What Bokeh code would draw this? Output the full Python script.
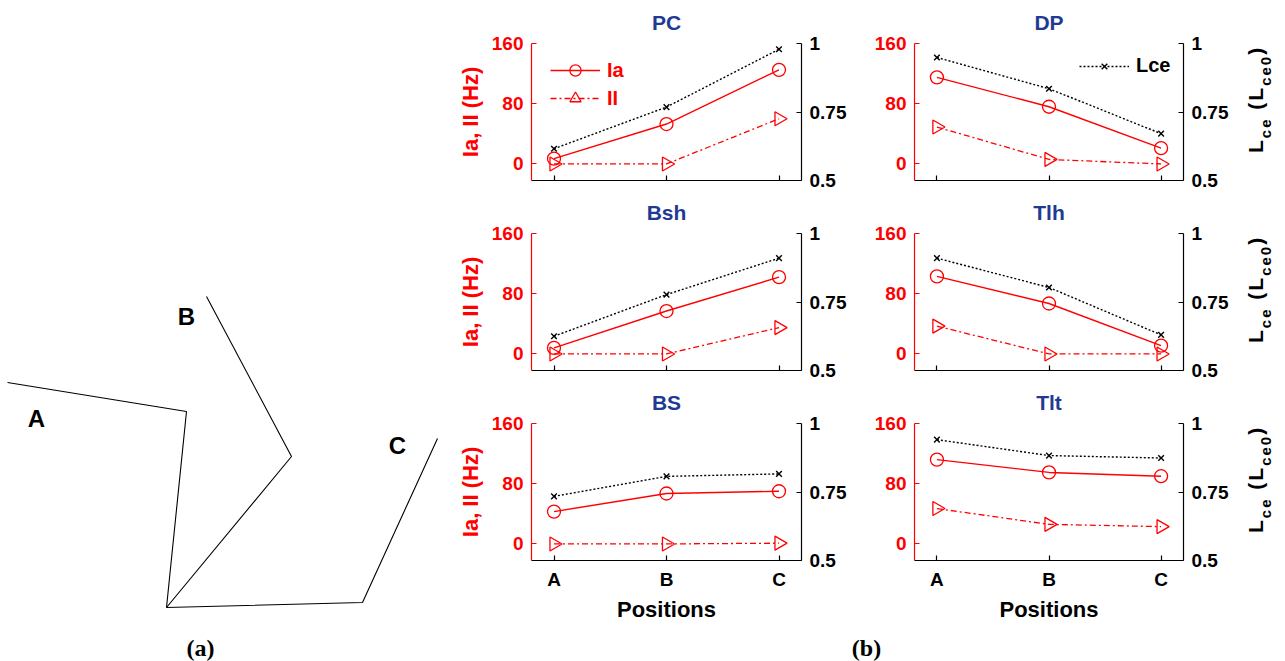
import math
from bokeh.plotting import figure
from bokeh.models import (Range1d, LinearAxis, FixedTicker, Legend, LegendItem, Label, Div)
from bokeh.layouts import row, column
from bokeh.embed import file_html
from bokeh.resources import INLINE
from bokeh.core.properties import value

# ---------------- data ----------------
POSITIONS = ["A", "B", "C"]
X = [1, 2, 3]

PC_IA = [7, 53, 125]
PC_II = [0, 0, 60]
PC_LCE = [0.616, 0.768, 0.979]

DP_IA = [115, 76, 21]
DP_II = [49, 6, 0]
DP_LCE = [0.949, 0.835, 0.671]

BSH_IA = [8, 57, 102]
BSH_II = [0, 0, 35]
BSH_LCE = [0.625, 0.777, 0.910]

TLH_IA = [103, 67, 11]
TLH_II = [37, 0, 0]
TLH_LCE = [0.910, 0.803, 0.630]

BS_IA = [43, 67, 70]
BS_II = [0, 0, 1]
BS_LCE = [0.734, 0.807, 0.816]

TLT_IA = [112, 95, 90]
TLT_II = [47, 26, 23]
TLT_LCE = [0.941, 0.883, 0.874]

LEFT_TICKS = [0, 80, 160]
RIGHT_TICKS = [0.5, 0.75, 1.0]
RIGHT_LABELS = ["0.5", "0.75", "1"]

# arm postures (shoulder at origin)
SHOULDER_X, SHOULDER_Y = 0, 0
ELBOW_X = [20, 125, 196]
ELBOW_Y = [196, 151, 5]
HAND_X = [-159, 40, 271]
HAND_Y = [225, 311, 169]
LABEL_X = [-130, 20, 231]
LABEL_Y = [189, 291, 162]

# ---------------- style ----------------
FONT = "Liberation Sans"
SERIF = "Liberation Serif"
RED = "#ff0000"
BLUE = "#1f3a93"

HEIGHTS = [190, 190, 250]
TOPS = [43, 43, 43]
BOTTOMS = [10, 10, 70]
STRIP_H = 31


def style_axis(ax, color, size="19px"):
    ax.axis_line_color = color
    ax.axis_line_width = 1.2
    ax.major_tick_line_color = color
    ax.major_tick_line_width = 1.2
    ax.major_tick_in = 5
    ax.major_tick_out = 0
    ax.minor_tick_line_color = None
    ax.major_label_text_color = color
    ax.major_label_text_font = FONT
    ax.major_label_text_font_style = "bold"
    ax.major_label_text_font_size = size
    ax.major_label_standoff = 8
    ax.axis_label_text_font = FONT
    ax.axis_label_text_font_style = "bold"
    ax.axis_label_text_font_size = "22px"
    ax.axis_label_text_color = color


def make_panel(title, ia, ii, lce, col, ri, legend=None):
    width = 410 if col == 0 else 385
    p = figure(width=width, height=HEIGHTS[ri], x_range=Range1d(0.8, 3.2),
               y_range=Range1d(-22, 160), toolbar_location=None, output_backend="svg",
               min_border_left=91 if col == 0 else 64,
               min_border_right=49 if col == 0 else 52,
               min_border_top=TOPS[ri], min_border_bottom=BOTTOMS[ri])
    p.extra_y_ranges = {"lce": Range1d(0.5, 1.0)}
    p.outline_line_color = None
    p.grid.visible = False

    p.title.text = title
    p.title.align = "center"
    p.title.vertical_align = "top"
    p.title.text_font = FONT
    p.title.text_font_style = "bold"
    p.title.text_font_size = "21px"
    p.title.text_color = BLUE
    p.title.standoff = 16

    l3 = p.line(X, lce, y_range_name="lce", line_color="black", line_width=1.4, line_dash="2 2")
    m3 = p.scatter(X, lce, y_range_name="lce", marker="x", size=8, line_color="black", line_width=1.4)
    l2 = p.line(X, ii, line_color=RED, line_width=1.3, line_dash="6 3 2 3")
    m2 = p.scatter(X, ii, marker="triangle", angle=-math.pi / 2, size=14, fill_color=None,
                   line_color=RED, line_width=1.3)
    l1 = p.line(X, ia, line_color=RED, line_width=1.4)
    m1 = p.scatter(X, ia, marker="circle", size=13, fill_color=None, line_color=RED, line_width=1.3)

    ly = p.yaxis[0]
    ly.ticker = FixedTicker(ticks=LEFT_TICKS)
    style_axis(ly, RED)
    if col == 0:
        ly.axis_label = "Ia, II (Hz)"
        ly.axis_label_standoff = 6

    ry = LinearAxis(y_range_name="lce", ticker=FixedTicker(ticks=RIGHT_TICKS))
    ry.major_label_overrides = {t: s for t, s in zip(RIGHT_TICKS, RIGHT_LABELS)}
    style_axis(ry, "black")
    p.add_layout(ry, "right")

    xa = p.xaxis[0]
    xa.ticker = FixedTicker(ticks=X)
    xa.major_label_overrides = {x: s for x, s in zip(X, POSITIONS)}
    style_axis(xa, "black")
    if ri == 2:
        xa.axis_label = "Positions"
        xa.axis_label_standoff = 4
    else:
        xa.major_label_text_font_size = "1px"
        xa.major_label_text_color = None
        xa.major_label_standoff = 0

    if legend == "ia":
        lg = Legend(items=[LegendItem(label="Ia", renderers=[l1, m1]),
                           LegendItem(label="II", renderers=[l2, m2])],
                    location=(19, 68))
        lg.label_text_color = RED
        lg.glyph_height = 28
        lg.label_height = 28
        lg.spacing = 0
    elif legend == "lce":
        lg = Legend(items=[LegendItem(label="Lce", renderers=[l3, m3])], location=(165, 103))
        lg.label_text_color = "black"
        lg.glyph_height = 20
        lg.label_height = 20
        lg.spacing = 0
    else:
        lg = None
    if lg is not None:
        lg.label_text_font = FONT
        lg.label_text_font_style = "bold"
        lg.label_text_font_size = "20px"
        lg.glyph_width = 50
        lg.label_standoff = 7
        lg.margin = 0
        lg.padding = 0
        lg.border_line_color = None
        lg.background_fill_alpha = 0
        p.add_layout(lg, "center")
    return p


def lce_label(ri):
    """Right-hand axis title L_ce (L_ce0), rotated, with real subscripts."""
    h = HEIGHTS[ri]
    sub = '<span style="font-size:15px; vertical-align:-8px;">{}</span>'
    html = (
        f'<div style="position:relative; width:50px; height:{h}px; overflow:visible;">'
        f'<div style="position:absolute; left:10px; top:{TOPS[ri] + 110}px; '
        f'transform-origin:0 0; transform:rotate(-90deg); white-space:nowrap; '
        f"font-family:'{FONT}'; font-weight:bold; font-size:21px; line-height:1; "
        f'letter-spacing:2px; color:black;">'
        f'L{sub.format("ce")} (L{sub.format("ce0")})</div></div>'
    )
    return Div(text=html, width=50, height=h, margin=0)


pc = make_panel("PC", PC_IA, PC_II, PC_LCE, 0, 0, legend="ia")
dp = make_panel("DP", DP_IA, DP_II, DP_LCE, 1, 0, legend="lce")
bsh = make_panel("Bsh", BSH_IA, BSH_II, BSH_LCE, 0, 1)
tlh = make_panel("Tlh", TLH_IA, TLH_II, TLH_LCE, 1, 1)
bs = make_panel("BS", BS_IA, BS_II, BS_LCE, 0, 2)
tlt = make_panel("Tlt", TLT_IA, TLT_II, TLT_LCE, 1, 2)

# strip under the panels holding the "(b)" caption
strip = figure(width=845, height=STRIP_H, x_range=Range1d(440, 1285), y_range=Range1d(0, STRIP_H),
               toolbar_location=None, output_backend="svg", min_border=0,
               x_axis_location=None, y_axis_location=None)
strip.outline_line_color = None
strip.grid.visible = False
strip.add_layout(Label(x=866, y=14, text="(b)", text_font=SERIF, text_font_style="bold",
                       text_font_size="24px", text_align="center", text_baseline="middle",
                       text_color="black"))

# ---------------- left panel: arm postures ----------------
left = figure(width=440, height=661, x_range=Range1d(-166, 274), y_range=Range1d(-54, 607),
              toolbar_location=None, output_backend="svg", min_border=0,
              x_axis_location=None, y_axis_location=None)
left.outline_line_color = None
left.grid.visible = False
xs = [[SHOULDER_X, ex, hx] for ex, hx in zip(ELBOW_X, HAND_X)]
ys = [[SHOULDER_Y, ey, hy] for ey, hy in zip(ELBOW_Y, HAND_Y)]
left.multi_line(xs, ys, line_color="black", line_width=1.1)
left.text(x=LABEL_X, y=LABEL_Y, text=POSITIONS, text_font=value(FONT), text_font_style="bold",
          text_font_size="24px", text_align="center", text_baseline="middle", text_color="black")
left.add_layout(Label(x=34, y=-40, text="(a)", text_font=SERIF, text_font_style="bold",
                      text_font_size="24px", text_align="center", text_baseline="middle",
                      text_color="black"))

right_block = column(
    row(pc, dp, lce_label(0)),
    row(bsh, tlh, lce_label(1)),
    row(bs, tlt, lce_label(2)),
    strip,
)
layout = row(left, right_block)

open("out.html", "w").write(file_html(layout, INLINE))
